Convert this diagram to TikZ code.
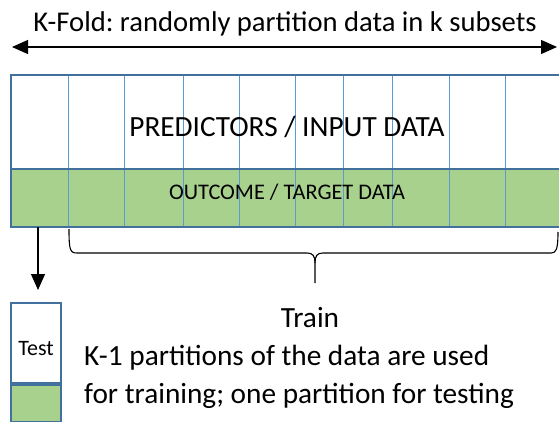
\documentclass[tikz,border=0pt]{standalone}
\usepackage{fontspec}
\setmainfont{Carlito}
\frenchspacing
\usetikzlibrary{positioning,arrows.meta,calc}
\definecolor{bordblue}{HTML}{41719C}
\definecolor{celblue}{HTML}{5B9BD5}
\definecolor{datgreen}{HTML}{A9D18E}
\tikzset{
  dblarr/.style={{Triangle[length=16pt,width=14pt]}-{Triangle[length=16pt,width=14pt]},line width=1.2pt},
  downarr/.style={-{Triangle[length=16pt,width=14pt]},line width=1.2pt},
  frame/.style={draw=bordblue,line width=2pt},
  cell/.style={draw=celblue,line width=0.9pt},
  bigtxt/.style={font=\fontsize{29.3}{38}\selectfont,inner sep=0pt},
  ttltxt/.style={font=\fontsize{28.6}{34}\selectfont,inner sep=0pt},
  midtxt/.style={font=\fontsize{22}{26}\selectfont,inner sep=0pt},
  smalltxt/.style={font=\fontsize{22.3}{26}\selectfont,inner sep=0pt},
  brc/.style={line width=1.1pt},
}

\begin{document}
\begin{tikzpicture}[x=1pt,y=-1pt]
  \useasboundingbox (0,0) rectangle (559,422);
  % title and double arrow
  \node[ttltxt,anchor=base] (title) at (285,32) {K-Fold: randomly partition data in k subsets};
  \coordinate (lt) at (12,47);
  \coordinate (rt) at (557,47);
  \draw[dblarr] (lt) -- (rt);
  % data table
  \fill[datgreen] (11,169) rectangle (561,227);
  \foreach \x in {68,124,183,239,295,343,392,449,505}{
    \draw[cell] (\x,75) -- (\x,227);
  }
  \draw[frame] (561,75) -- (11,75) -- (11,227) -- (561,227);
  \draw[frame] (11,169) -- (561,169);
  \node[bigtxt,anchor=base] (pred) at (287,137) {PREDICTORS / INPUT DATA};
  \node[smalltxt,anchor=base] (outc) at (287,200) {OUTCOME / TARGET DATA};
  % test partition
  \coordinate (fold) at (38,227);
  \node[frame,fill=white,minimum width=50pt,minimum height=80pt,inner sep=0pt] (testtop) at (36,343) {};
  \node[frame,fill=datgreen,minimum width=50pt,minimum height=37pt,inner sep=0pt,below=0pt of testtop] (testbot) {};
  \node[midtxt,anchor=base] (testlbl) at (36,355) {Test};
  \draw[downarr,shorten >=12pt] (fold) -- (fold |- testtop.north);
  % brace over training partitions
  \coordinate (brl) at (69,229);
  \coordinate (brm) at (315,283);
  \coordinate (brr) at (558,232);
  \draw[brc] (brl) .. controls (69,250) and (70,253) .. (77,253) -- (307,253)
    .. controls (313,253) and (315,256) .. (315,263) -- (brm);
  \draw[brc] (315,263) .. controls (315,256) and (317,253) .. (323,253) -- (551,253)
    .. controls (556,253) and (558,250) .. (brr);
  \node[bigtxt,anchor=base] (train) at (310,327) {Train};
  \node[bigtxt,anchor=base west] (desca) at (84,365) {K-1 partitions of the data are used};
  \node[bigtxt,anchor=base west] (descb) at (84,403) {for training; one partition for testing};
\end{tikzpicture}
\end{document}
